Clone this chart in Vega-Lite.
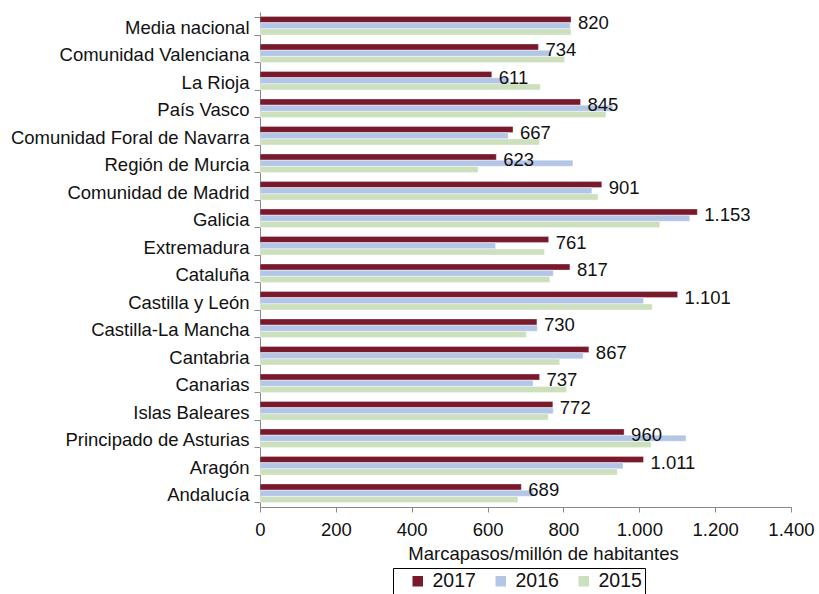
{
  "$schema": "https://vega.github.io/schema/vega-lite/v6.json",
  "width": 531,
  "height": 495,
  "autosize": {"type": "none"},
  "padding": {"left": 260, "top": 12, "right": 28, "bottom": 87},
  "background": "white",
  "config": {
    "font": "Liberation Sans",
    "view": {"stroke": null},
    "locale": {"number": {"decimal": ",", "thousands": ".", "grouping": [3], "currency": ["", " €"]}}
  },
  "data": {"values": [
    {"region": "Media nacional", "year": "2017", "value": 820},
    {"region": "Media nacional", "year": "2016", "value": 818},
    {"region": "Media nacional", "year": "2015", "value": 820},
    {"region": "Comunidad Valenciana", "year": "2017", "value": 734},
    {"region": "Comunidad Valenciana", "year": "2016", "value": 763},
    {"region": "Comunidad Valenciana", "year": "2015", "value": 803},
    {"region": "La Rioja", "year": "2017", "value": 611},
    {"region": "La Rioja", "year": "2016", "value": 658},
    {"region": "La Rioja", "year": "2015", "value": 739},
    {"region": "País Vasco", "year": "2017", "value": 845},
    {"region": "País Vasco", "year": "2016", "value": 930},
    {"region": "País Vasco", "year": "2015", "value": 912},
    {"region": "Comunidad Foral de Navarra", "year": "2017", "value": 667},
    {"region": "Comunidad Foral de Navarra", "year": "2016", "value": 654},
    {"region": "Comunidad Foral de Navarra", "year": "2015", "value": 737},
    {"region": "Región de Murcia", "year": "2017", "value": 623},
    {"region": "Región de Murcia", "year": "2016", "value": 825},
    {"region": "Región de Murcia", "year": "2015", "value": 575},
    {"region": "Comunidad de Madrid", "year": "2017", "value": 901},
    {"region": "Comunidad de Madrid", "year": "2016", "value": 875},
    {"region": "Comunidad de Madrid", "year": "2015", "value": 891},
    {"region": "Galicia", "year": "2017", "value": 1153},
    {"region": "Galicia", "year": "2016", "value": 1133},
    {"region": "Galicia", "year": "2015", "value": 1054},
    {"region": "Extremadura", "year": "2017", "value": 761},
    {"region": "Extremadura", "year": "2016", "value": 621},
    {"region": "Extremadura", "year": "2015", "value": 750},
    {"region": "Cataluña", "year": "2017", "value": 817},
    {"region": "Cataluña", "year": "2016", "value": 773},
    {"region": "Cataluña", "year": "2015", "value": 764},
    {"region": "Castilla y León", "year": "2017", "value": 1101},
    {"region": "Castilla y León", "year": "2016", "value": 1011},
    {"region": "Castilla y León", "year": "2015", "value": 1034},
    {"region": "Castilla-La Mancha", "year": "2017", "value": 730},
    {"region": "Castilla-La Mancha", "year": "2016", "value": 731},
    {"region": "Castilla-La Mancha", "year": "2015", "value": 702},
    {"region": "Cantabria", "year": "2017", "value": 867},
    {"region": "Cantabria", "year": "2016", "value": 852},
    {"region": "Cantabria", "year": "2015", "value": 790},
    {"region": "Canarias", "year": "2017", "value": 737},
    {"region": "Canarias", "year": "2016", "value": 720},
    {"region": "Canarias", "year": "2015", "value": 808},
    {"region": "Islas Baleares", "year": "2017", "value": 772},
    {"region": "Islas Baleares", "year": "2016", "value": 773},
    {"region": "Islas Baleares", "year": "2015", "value": 760},
    {"region": "Principado de Asturias", "year": "2017", "value": 960},
    {"region": "Principado de Asturias", "year": "2016", "value": 1123},
    {"region": "Principado de Asturias", "year": "2015", "value": 1031},
    {"region": "Aragón", "year": "2017", "value": 1011},
    {"region": "Aragón", "year": "2016", "value": 957},
    {"region": "Aragón", "year": "2015", "value": 942},
    {"region": "Andalucía", "year": "2017", "value": 689},
    {"region": "Andalucía", "year": "2016", "value": 721},
    {"region": "Andalucía", "year": "2015", "value": 680}
  ]},
  "encoding": {
    "y": {
      "field": "region", "type": "nominal", "sort": null,
      "scale": {"paddingInner": 0.33, "paddingOuter": 0.165},
      "axis": {
        "title": null, "labelFontSize": 18.5, "labelColor": "#111111",
        "tickBand": "extent", "tickSize": 6, "labelPadding": 5, "labelOffset": 1.5,
        "domainColor": "#888888", "tickColor": "#888888", "labelLimit": 300
      }
    },
    "yOffset": {
      "field": "year", "type": "nominal", "sort": ["2017", "2016", "2015"],
      "scale": {"paddingInner": 0.05}
    },
    "x": {
      "field": "value", "type": "quantitative",
      "scale": {"domain": [0, 1400], "nice": false},
      "axis": {
        "title": "Marcapasos/millón de habitantes", "values": [0, 200, 400, 600, 800, 1000, 1200, 1400],
        "format": ",d", "labelFontSize": 18.5, "labelColor": "#111111", "grid": false,
        "tickSize": 5, "labelPadding": 8, "domainColor": "#888888", "tickColor": "#888888",
        "titleFontSize": 18.5, "titleFontWeight": "normal", "titleColor": "#111111",
        "titleX": 283, "titleY": 52, "titleBaseline": "alphabetic", "titleAlign": "center",
        "labelFlush": false
      }
    }
  },
  "layer": [
    {
      "mark": {"type": "bar", "stroke": "#ffffff", "strokeWidth": 0.5, "strokeOpacity": 0.6},
      "encoding": {
        "color": {
          "field": "year", "type": "nominal",
          "scale": {"domain": ["2017", "2016", "2015"], "range": ["#78192C", "#B4C6E7", "#CCE0BE"]},
          "legend": {
            "title": null,
            "orient": "none", "direction": "horizontal", "legendX": 133, "legendY": 556,
            "symbolType": "square", "symbolSize": 144, "symbolOffset": 12,
            "labelFontSize": 19.5, "labelColor": "#111111", "labelOffset": 5,
            "columnPadding": 3, "padding": 3,
            "strokeColor": "#000000"
          }
        }
      }
    },
    {
      "transform": [{"filter": "datum.year === '2017'"}],
      "mark": {"type": "text", "align": "left", "baseline": "middle", "dx": 7, "dy": 3, "fontSize": 18.5, "color": "#111111"},
      "encoding": {
        "text": {"field": "value", "type": "quantitative", "format": ",d"}
      }
    }
  ]
}
